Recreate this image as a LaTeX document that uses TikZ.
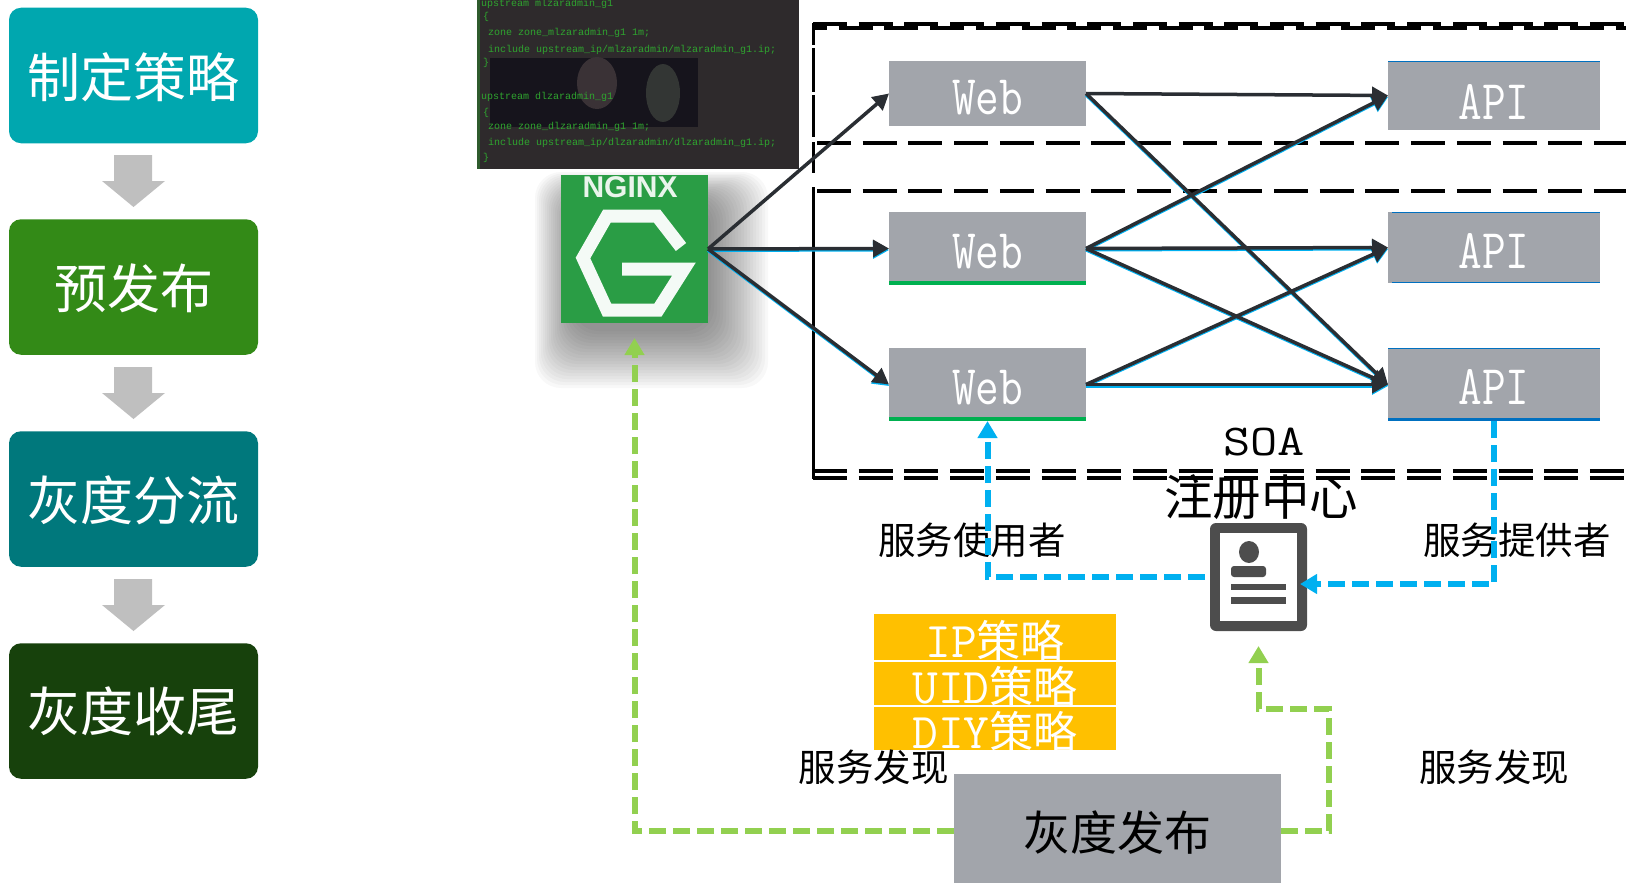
\documentclass[tikz,border=0pt]{standalone}
\usepackage{fontspec}
\setmainfont{Liberation Sans}
\newfontfamily\cjk{Noto Sans CJK SC}
\newfontfamily\lat{Liberation Mono}
\usetikzlibrary{arrows.meta}
\definecolor{cA}{HTML}{00A7AF}
\definecolor{cB}{HTML}{338A17}
\definecolor{cC}{HTML}{00787C}
\definecolor{cD}{HTML}{17410C}
\definecolor{boxgray}{HTML}{A2A5AB}
\definecolor{darkline}{HTML}{2A2E33}
\definecolor{skyb}{HTML}{00B0F0}
\definecolor{lime}{HTML}{92D050}
\definecolor{amber}{HTML}{FFC000}
\definecolor{ngreen}{HTML}{2A9D45}
\definecolor{greenstrip}{HTML}{00B050}
\definecolor{bluestrip}{HTML}{0070C0}
\definecolor{codegreen}{HTML}{2FA52F}
\definecolor{codebg}{HTML}{2E2A2C}
\definecolor{codedark}{HTML}{16141C}
\definecolor{icondark}{HTML}{4D4D4D}
\definecolor{blobA}{HTML}{3A3236}
\definecolor{blobB}{HTML}{333634}
\tikzset{
  base/.style={inner sep=0pt,outer sep=0pt},
  stage/.style={base,rounded corners=12pt,minimum width=249pt,minimum height=135.5pt,text=white,font=\cjk\fontsize{53}{53}\selectfont},
  downarrow/.style={fill=black!25,draw=none},
  svc/.style={base,fill=boxgray,text=white,font=\ttfamily\fontsize{56}{56}\selectfont},
  webbox/.style={svc,minimum width=197pt},
  apibox/.style={svc,minimum width=212pt},
  strat/.style={base,fill=amber,minimum width=242pt,text=white},
  lbl/.style={base,text=black,font=\cjk\fontsize{37.5}{37.5}\selectfont},
  code/.style={base,anchor=west,text=codegreen,font=\lat\fontsize{10}{10}\selectfont},
  frameline/.style={black,line width=4pt,dash pattern=on 34pt off 11.7pt},
  framev/.style={black,line width=3pt},
  darkarrow/.style={draw=darkline,line width=3.5pt,-{Triangle[length=16pt,width=17pt]}},
  skyarrow/.style={draw=skyb,line width=3pt,-{Triangle[length=16pt,width=17pt]}},
  bluedash/.style={draw=skyb,line width=6pt,dash pattern=on 17pt off 7pt,-{Triangle[length=17pt,width=19pt]}},
  limedash/.style={draw=lime,line width=6pt,dash pattern=on 17pt off 7pt,-{Triangle[length=17pt,width=19pt]}},
}
\newcommand{\lowered}[2]{\raisebox{-#1}[\height][\depth]{#2}}
\newcommand{\svctext}[2]{\lowered{#1}{\scalebox{0.82}[1]{#2}}}
\newcommand{\strattext}[1]{{\ttfamily\fontsize{50}{50}\selectfont #1}{\cjk\fontsize{44}{44}\selectfont 策略}}
\begin{document}
\begin{tikzpicture}[x=1pt,y=-1pt]
\useasboundingbox (0,0) rectangle (1626,883);
% left stages
\node[stage,fill=cA] (s1) at (133.5,75.5) {\lowered{2pt}{制定策略}};
\node[stage,fill=cB] (s2) at (133.5,287) {\lowered{1pt}{预发布}};
\node[stage,fill=cC] (s3) at (133.5,499) {\lowered{1pt}{灰度分流}};
\node[stage,fill=cD] (s4) at (133.5,711) {灰度收尾};
\foreach \t in {155,367,579}{
  \fill[downarrow] (114,\t) -- (152,\t) -- (152,\t+26) -- (165,\t+26) -- (133.5,\t+52) -- (102,\t+26) -- (114,\t+26) -- cycle;
}
% code screenshot
\fill[codebg] (477,0) rectangle (799,169);
\fill[codedark] (490,58) rectangle (698,127);
\fill[blobA] (597,83) ellipse (20 and 26);
\fill[blobB] (663,93) ellipse (17 and 29);
\fill[codegreen!40!codebg] (477,0) rectangle (480,169);
\node[code] (c1) at (481,4) {upstream mlzaradmin\_g1};
\node[code] (c2) at (483,17) {\{};
\node[code] (c3) at (488,33) {zone zone\_mlzaradmin\_g1 1m;};
\node[code] (c4) at (488,50) {include upstream\_ip/mlzaradmin/mlzaradmin\_g1.ip;};
\node[code] (c5) at (483,63) {\}};
\node[code] (c6) at (481,97) {upstream dlzaradmin\_g1};
\node[code] (c7) at (483,113) {\{};
\node[code] (c8) at (488,127) {zone zone\_dlzaradmin\_g1 1m;};
\node[code] (c9) at (488,143) {include upstream\_ip/dlzaradmin/dlzaradmin\_g1.ip;};
\node[code] (c10) at (483,158) {\}};
% frame
\draw[frameline] (813,24) -- (1626,24);
\draw[frameline,dash phase=20pt] (813,28) -- (1626,28);
\draw[frameline] (817,143) -- (1626,143);
\draw[frameline] (817,191) -- (1626,191);
\draw[frameline] (813,471) -- (1626,471);
\draw[frameline] (813,478) -- (1626,478);
\draw[framev] (813,23) -- (813,45) (813,48) -- (813,92) (813,95) -- (813,137) (813,142) -- (813,173) (813,187) -- (813,479);
% nginx shadow
\foreach \i in {0,...,19}{
  \fill[black,opacity=0.026,rounded corners=26pt] (535+\i*2,172+\i*1.5) rectangle (768-\i*3,388-\i*3);
}
\node[base,fill=ngreen,minimum width=147pt,minimum height=148pt] (nginx) at (634.5,249) {};
\begin{scope}
\clip (nginx.south west) rectangle (nginx.north east);
\node[base,text=white!90!ngreen,font=\bfseries\fontsize{30}{30}\selectfont] (ngtext) at (630,187) {NGINX};
\draw[white!95!ngreen,line width=13pt,line join=miter] (681,247) -- (657,216) -- (607,216) -- (583,258) -- (607,310) -- (658,310) -- (684,269) -- (622,269);
\end{scope}
% services
\node[webbox,minimum height=65pt] (w1) at (987.5,93.5) {\svctext{4pt}{Web}};
\node[webbox,minimum height=73pt] (w2) at (987.5,248.5) {\svctext{3pt}{Web}};
\node[webbox,minimum height=73pt] (w3) at (987.5,384.5) {\svctext{3pt}{Web}};
\node[apibox,minimum height=69pt] (a1) at (1494,95.5) {\svctext{6pt}{API}};
\node[apibox,minimum height=71pt] (a2) at (1494,247.5) {\svctext{3pt}{API}};
\node[apibox,minimum height=73pt] (a3) at (1494,384.5) {\svctext{2pt}{API}};
\fill[greenstrip] (w2.south west) rectangle ([yshift=4pt]w2.south east);
\fill[greenstrip] (w3.south west) rectangle ([yshift=4pt]w3.south east);
\fill[bluestrip] (a1.north west) rectangle ([yshift=-1pt]a1.north east);
\fill[bluestrip] ([xshift=4pt]a2.north west) rectangle ([yshift=-1pt]a2.north east);
\fill[bluestrip] ([xshift=4pt]a2.south west) rectangle ([yshift=1pt]a2.south east);
\fill[bluestrip] (a3.north west) rectangle ([yshift=-1pt]a3.north east);
\fill[bluestrip] (a3.south west) rectangle ([yshift=3pt]a3.south east);
% connectors
\foreach \f/\g in {nginx/w2,nginx/w3,w1/a3,w2/a1,w2/a2,w2/a3,w3/a2,w3/a3}{
  \draw[skyarrow] ([yshift=-1.5pt]\f.east) -- ([yshift=-1.5pt]\g.west);
}
\foreach \f/\g in {nginx/w1,nginx/w2,nginx/w3,w1/a1,w1/a3,w2/a1,w2/a2,w2/a3,w3/a2,w3/a3}{
  \draw[darkarrow] (\f.east) -- (\g.west);
}
% labels
\node[base,font=\ttfamily\fontsize{44}{44}\selectfont] (soa) at (1264,442) {\scalebox{1.2}[1]{SOA}};
\node[base,font=\cjk\fontsize{48.5}{48.5}\selectfont] (reg) at (1261,497) {注册中心};
\node[lbl] (use) at (972,540) {服务使用者};
\node[lbl] (prov) at (1517,540) {服务提供者};
% icon
\node[base,fill=icondark,rounded corners=6pt,minimum width=97pt,minimum height=108pt] (icon) at (1258.5,577) {};
\fill[white] (1220,533) rectangle (1297,621);
\fill[icondark] (1249,552) ellipse (10 and 11);
\fill[icondark,rounded corners=3pt] (1231,577) -- (1231,566) -- (1266,566) -- (1266,577) -- cycle;
\fill[icondark] (1231,584) rectangle (1286,590);
\fill[icondark] (1231,597) rectangle (1286,604);
% strategies
\node[strat,minimum height=46pt] (st1) at (995,637) {\lowered{4pt}{\strattext{IP}}};
\node[strat,minimum height=43pt] (st2) at (995,683.5) {\lowered{3pt}{\strattext{UID}}};
\node[strat,minimum height=43pt] (st3) at (995,728.5) {\lowered{3pt}{\strattext{DIY}}};
\node[lbl] (dl) at (873.5,767) {服务发现};
\node[lbl] (dr) at (1494,767) {服务发现};
% gray release box
\node[base,fill=boxgray,minimum width=327pt,minimum height=109pt,text=black,font=\cjk\fontsize{47}{47}\selectfont] (gray) at (1117.5,828.5) {\lowered{4pt}{灰度发布}};
% dashed connectors
\draw[bluedash,shorten <=5pt] (icon.west) -| (w3.south);
\draw[bluedash] (a3.south) |- ([xshift=-7pt,yshift=-7pt]icon.east);
\coordinate (gr1) at (1329,709);
\draw[limedash] ([yshift=-2pt]gray.west) -| ([yshift=-15pt]nginx.south);
\draw[limedash] ([yshift=-2pt]gray.east) -| (gr1) -| ([yshift=-15pt]icon.south);
\end{tikzpicture}
\end{document}
